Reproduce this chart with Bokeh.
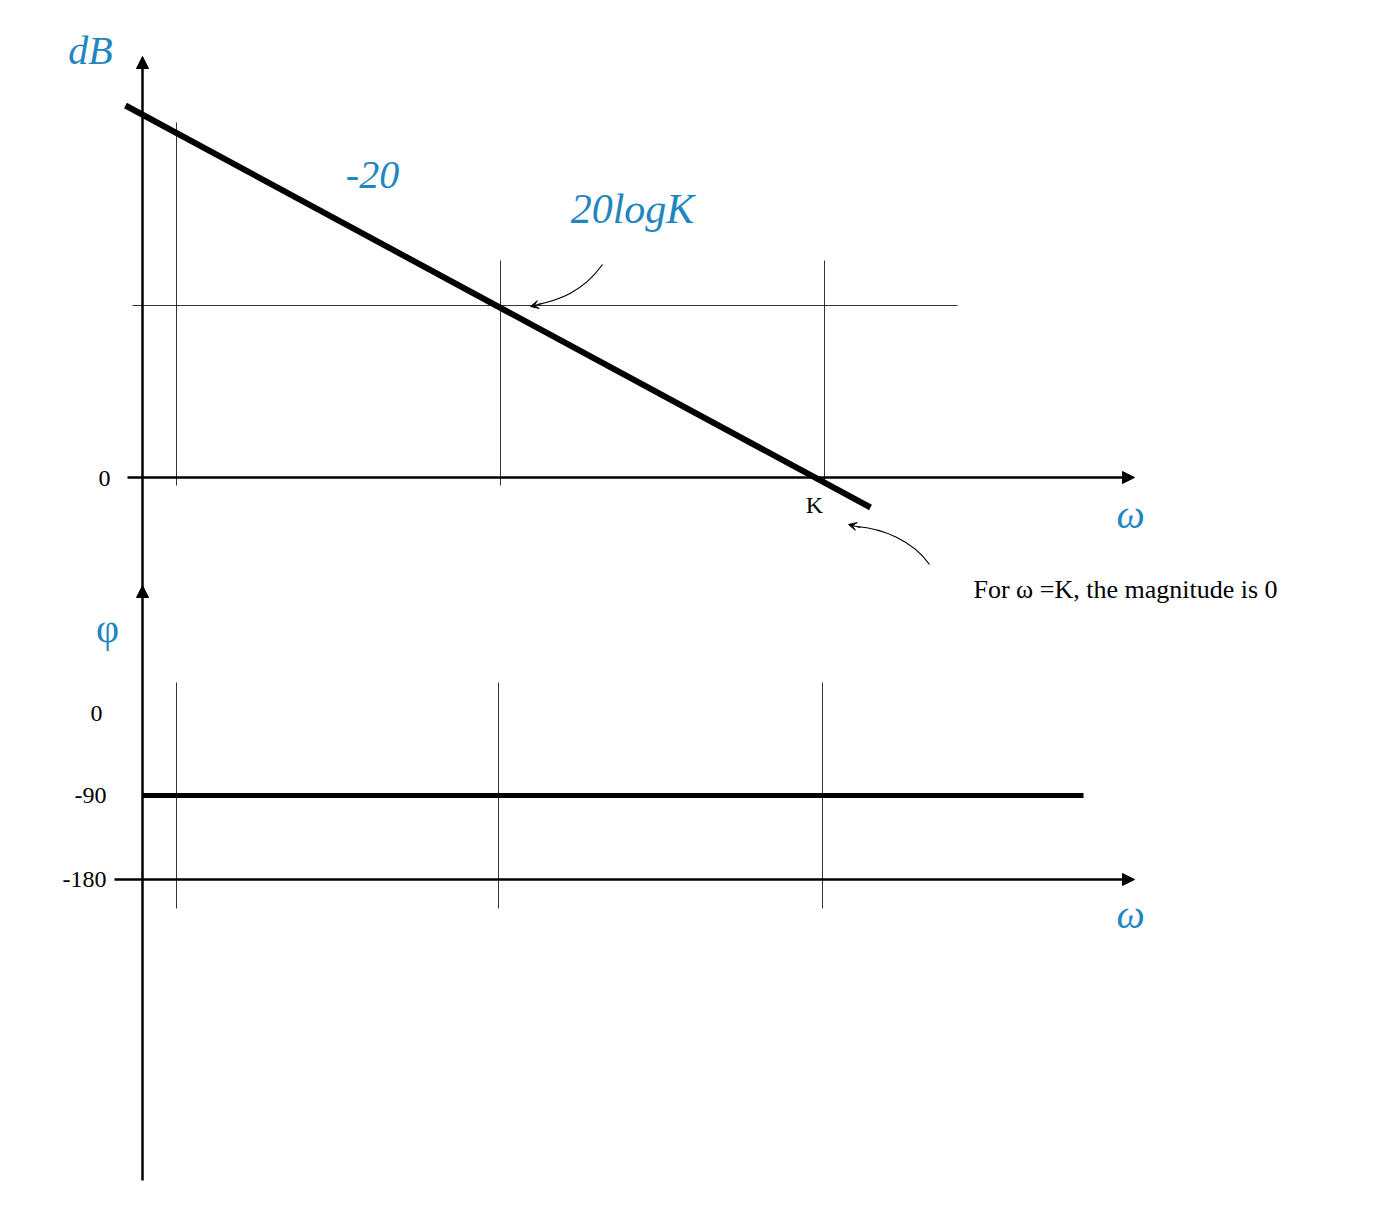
from bokeh.plotting import figure
from bokeh.models import Range1d, Arrow, NormalHead, VeeHead
from bokeh.core.properties import value
from bokeh.embed import file_html
from bokeh.resources import INLINE

BLUE = "#1f86c0"
SERIF = "Liberation Serif"

# diagram geometry (page pixel coordinates)
mag_x = [133, 878]
mag_y = [113, 515]
phase_x = [150, 1091]
phase_y = [803, 803]
top_grid_x = [184, 508, 832]
top_grid_y0 = [130, 268, 268]
top_grid_y1 = [493, 493, 493]
bot_grid_x = [184, 506, 830]
ref_x = [140, 965]
ref_y = [313, 313]

p = figure(width=1358, height=1196, output_backend="svg", toolbar_location=None,
           x_range=Range1d(8, 1366), y_range=Range1d(1204, 8))
p.axis.visible = False
p.grid.visible = False
p.outline_line_color = None
p.min_border = 0

# thin grid lines
p.segment(top_grid_x, top_grid_y0, top_grid_x, top_grid_y1, line_color="black", line_width=0.8)
p.segment(bot_grid_x, [690] * 3, bot_grid_x, [916] * 3, line_color="black", line_width=0.8)
p.line(ref_x, ref_y, line_color="black", line_width=0.8)

# axes with arrow heads
def axis_arrow(x0, y0, x1, y1):
    p.add_layout(Arrow(end=NormalHead(size=12, fill_color="black", line_color="black"),
                       x_start=x0, y_start=y0, x_end=x1, y_end=y1,
                       line_width=2.5, line_color="black"))

axis_arrow(150, 595, 150, 64)
axis_arrow(135, 485, 1142, 485)
axis_arrow(150, 1188, 150, 593)
axis_arrow(122, 887, 1142, 887)

# asymptotes
p.line(mag_x, mag_y, line_color="black", line_width=6)
p.line(phase_x, phase_y, line_color="black", line_width=5)

# curved pointers
p.bezier(x0=[610], y0=[272], x1=[545], y1=[312], cx0=[590], cy0=[300], cx1=[565], cy1=[308],
         line_color="black", line_width=1.2)
p.add_layout(Arrow(end=VeeHead(size=8, fill_color="black"), x_start=550, y_start=311,
                   x_end=538, y_end=314, line_width=1.2))
p.bezier(x0=[937], y0=[572], x1=[864], y1=[534], cx0=[920], cy0=[548], cx1=[890], cy1=[536],
         line_color="black", line_width=1.2)
p.add_layout(Arrow(end=VeeHead(size=8, fill_color="black"), x_start=868, y_start=535,
                   x_end=856, y_end=532, line_width=1.2))

def label(x, y, t, size, color="black", style="normal", align="center"):
    p.text([x], [y], text=[t], text_font=value(SERIF), text_font_size=size,
           text_color=color, text_font_style=style, text_align=align, text_baseline="middle")

label(98, 58, "dB", "40px", BLUE, "italic")
label(380, 182, "-20", "40px", BLUE, "italic")
label(640, 216, "20logK", "42px", BLUE, "italic")
label(1138, 522, "ω", "40px", BLUE, "italic")
label(1138, 922, "ω", "40px", BLUE, "italic")
label(115, 636, "φ", "40px", BLUE)
label(118, 486, "0", "24px", align="right")
label(822, 512, "K", "24px")
label(1133, 597, "For ω =K, the magnitude is 0", "26px")
label(110, 721, "0", "24px", align="right")
label(114, 803, "-90", "24px", align="right")
label(114, 887, "-180", "24px", align="right")

open("out.html", "w").write(file_html(p, INLINE))
